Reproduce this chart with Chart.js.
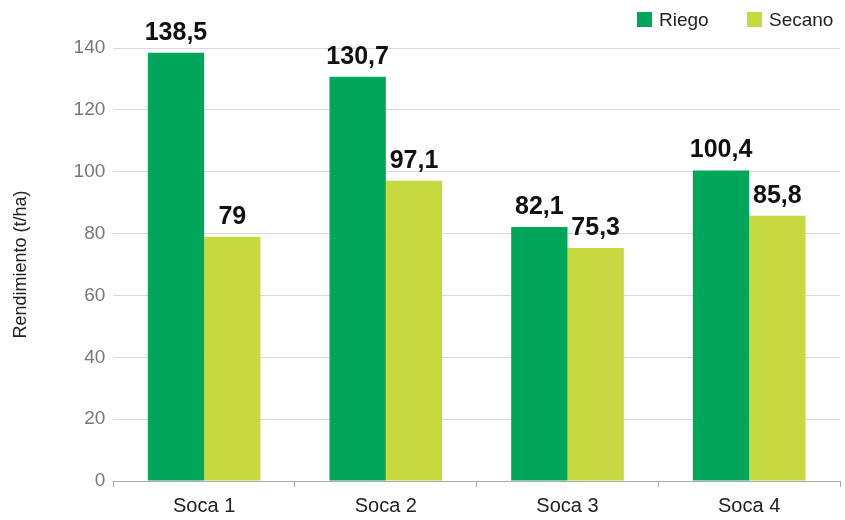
<!DOCTYPE html>
<html><head><meta charset="utf-8">
<script src="https://cdn.jsdelivr.net/npm/chart.js@4"></script>
<style>html,body{margin:0;padding:0;background:#fff;}#wrap{width:845px;height:520px;}</style>
</head><body><div id="wrap"><canvas id="c"></canvas></div>
<script>
const categories = ["Soca 1", "Soca 2", "Soca 3", "Soca 4"];
const riego = [138.5, 130.7, 82.1, 100.4];
const secano = [79, 97.1, 75.3, 85.8];
const yTicks = [0, 20, 40, 60, 80, 100, 120, 140];
const FONT = '"Liberation Sans", Arial, sans-serif';

const valueLabels = {
  id: 'valueLabels',
  afterDatasetsDraw(chart) {
    const ctx = chart.ctx;
    ctx.save();
    ctx.font = 'bold 25px ' + FONT;
    ctx.fillStyle = '#111';
    ctx.textAlign = 'center';
    ctx.textBaseline = 'alphabetic';
    chart.data.datasets.forEach((ds, i) => {
      chart.getDatasetMeta(i).data.forEach((bar, j) => {
        ctx.fillText(String(ds.data[j]).replace('.', ','), bar.x, bar.y - 13);
      });
    });
    ctx.restore();
  }
};

const topLegend = {
  id: 'topLegend',
  afterDraw(chart) {
    const ctx = chart.ctx;
    ctx.save();
    ctx.font = '19px ' + FONT;
    ctx.textBaseline = 'middle';
    ctx.textAlign = 'left';
    const xs = [637, 747];
    chart.data.datasets.forEach((ds, i) => {
      ctx.fillStyle = ds.backgroundColor;
      ctx.fillRect(xs[i], 12, 15, 15);
      ctx.fillStyle = '#222';
      ctx.fillText(ds.label, xs[i] + 22, 20.5);
    });
    ctx.restore();
  }
};

new Chart(document.getElementById('c'), {
  type: 'bar',
  data: {
    labels: categories,
    datasets: [
      { label: 'Riego', data: riego, backgroundColor: '#00A65A' },
      { label: 'Secano', data: secano, backgroundColor: '#C6DA40' }
    ]
  },
  options: {
    responsive: true,
    maintainAspectRatio: false,
    animation: false,
    layout: { padding: { left: 6, right: 5, top: 48, bottom: -5 } },
    datasets: { bar: { categoryPercentage: 0.62, barPercentage: 1.0 } },
    plugins: {
      legend: { display: false },
      tooltip: { enabled: false }
    },
    scales: {
      x: {
        grid: { display: true, drawOnChartArea: false, drawTicks: true, tickLength: 6, color: '#aaa', offset: true },
        border: { display: true, color: '#aaa' },
        ticks: { color: '#222', padding: 9, font: { family: FONT, size: 20, lineHeight: 1 } }
      },
      y: {
        min: 0, max: 140,
        afterBuildTicks(axis) { axis.ticks = yTicks.map(v => ({ value: v })); },
        grid: { color: '#dadada', drawTicks: false },
        border: { display: false },
        ticks: { color: '#777', padding: 8, font: { family: FONT, size: 19 } },
        title: { display: true, text: 'Rendimiento (t/ha)', color: '#222', padding: { top: 4, bottom: 34 }, font: { family: FONT, size: 18 } }
      }
    }
  },
  plugins: [valueLabels, topLegend]
});
</script>
</body></html>
